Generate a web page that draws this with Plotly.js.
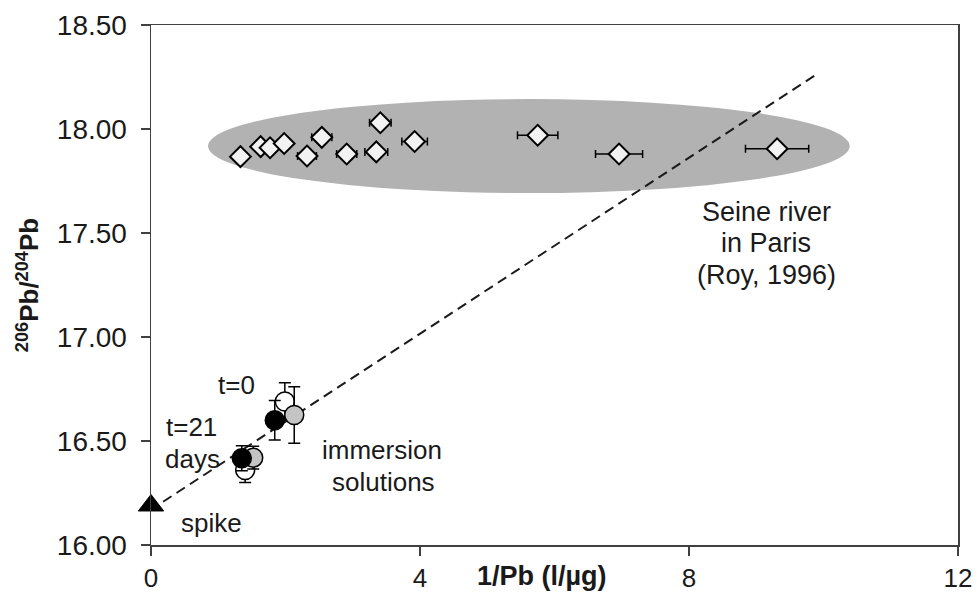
<!DOCTYPE html>
<html>
<head>
<meta charset="utf-8">
<script src="https://cdn.plot.ly/plotly-3.0.1.min.js"></script>
<style>html,body{margin:0;padding:0;background:#fff;}#chart{width:978px;height:594px;}</style>
</head>
<body>
<div id="chart"></div>
<script>
// Seine river in Paris (Roy, 1996)
const seineX = [1.33, 1.63, 1.77, 1.98, 2.32, 2.54, 2.91, 3.35, 3.41, 3.92, 5.75, 6.96, 9.31];
const seineY = [17.867, 17.915, 17.91, 17.93, 17.87, 17.96, 17.88, 17.89, 18.03, 17.94, 17.97, 17.88, 17.905];
const seineErrX = [0.08, 0.08, 0.08, 0.09, 0.14, 0.15, 0.15, 0.17, 0.16, 0.19, 0.30, 0.35, 0.47];

// Immersion solutions
const whiteX = [1.99, 1.40];
const whiteY = [16.69, 16.36];
const whiteErr = [0.09, 0.06];
const grayX = [2.13, 1.52];
const grayY = [16.625, 16.42];
const grayErr = [0.136, 0.055];
const blackX = [1.84, 1.35];
const blackY = [16.60, 16.417];
const blackErr = [0.095, 0.06];

// Spike
const spikeX = [0];
const spikeY = [16.19];

// Mixing line
const lineX = [0.18, 9.93];
const lineY = [16.208, 18.27];

// Seine field (ellipse extents)
const fieldX = [0.848, 10.39];
const fieldY = [17.692, 18.144];

const xTicks = [0, 4, 8, 12];
const xTickText = ['0', '4', '8', '12'];
const yTicks = [16.0, 16.5, 17.0, 17.5, 18.0, 18.5];
const yTickText = ['16.00', '16.50', '17.00', '17.50', '18.00', '18.50'];

const FONT = 'Liberation Sans, Arial, sans-serif';
const TXT = '#1a1a1a';

const traces = [
  {
    x: lineX, y: lineY, mode: 'lines', type: 'scatter',
    line: {color: '#1a1a1a', width: 2, dash: '10px,6px'},
    hoverinfo: 'skip', showlegend: false
  },
  {
    x: seineX, y: seineY, mode: 'markers', type: 'scatter', name: 'Seine',
    marker: {symbol: 'diamond', size: 16, color: '#f2f2f2', line: {color: '#000', width: 2}},
    error_x: {type: 'data', array: seineErrX, visible: true, color: '#000', thickness: 1.5, width: 4},
    showlegend: false
  },
  {
    x: whiteX, y: whiteY, mode: 'markers', type: 'scatter', name: 't=0',
    marker: {symbol: 'circle', size: 19, color: '#ffffff', line: {color: '#000', width: 1.5}},
    error_y: {type: 'data', array: whiteErr, visible: true, color: '#000', thickness: 1.5, width: 6},
    showlegend: false
  },
  {
    x: grayX, y: grayY, mode: 'markers', type: 'scatter', name: 'intermediate',
    marker: {symbol: 'circle', size: 19, color: '#c4c4c4', line: {color: '#000', width: 1.5}},
    error_y: {type: 'data', array: grayErr, visible: true, color: '#000', thickness: 1.5, width: 6},
    showlegend: false
  },
  {
    x: blackX, y: blackY, mode: 'markers', type: 'scatter', name: 't=21 days',
    marker: {symbol: 'circle', size: 19, color: '#000000', line: {color: '#000', width: 1.5}},
    error_y: {type: 'data', array: blackErr, visible: true, color: '#000', thickness: 1.5, width: 6},
    showlegend: false
  },
  {
    x: spikeX, y: spikeY, mode: 'markers', type: 'scatter', name: 'spike',
    marker: {symbol: 'triangle-up', size: 22, color: '#000', line: {color: '#000', width: 1}},
    cliponaxis: false, showlegend: false
  }
];

function label(x, y, text, size) {
  return {xref: 'x', yref: 'y', x: x, y: y, text: text, showarrow: false,
          xanchor: 'center', yanchor: 'middle',
          font: {family: FONT, size: size, color: TXT}};
}

const layout = {
  width: 978, height: 594,
  margin: {l: 151, r: 20, t: 25, b: 49},
  paper_bgcolor: '#ffffff', plot_bgcolor: '#ffffff',
  font: {family: FONT, size: 26, color: TXT},
  showlegend: false,
  xaxis: {
    range: [0, 12], tickvals: xTicks, ticktext: xTickText,
    showgrid: false, zeroline: false,
    showline: true, mirror: true, linecolor: '#404040', linewidth: 1.5,
    ticks: 'outside', ticklen: 9, tickwidth: 1.5, tickcolor: '#404040',
    tickfont: {family: FONT, size: 26, color: TXT},
    ticklabelstandoff: 0
  },
  yaxis: {
    range: [16, 18.5], tickvals: yTicks, ticktext: yTickText,
    showgrid: false, zeroline: false,
    showline: true, mirror: true, linecolor: '#404040', linewidth: 1.5,
    ticks: 'outside', ticklen: 9, tickwidth: 1.5, tickcolor: '#404040',
    tickfont: {family: FONT, size: 28, color: TXT},
    ticklabelstandoff: 8,
    title: {text: '<b><sup>206</sup>Pb/<sup>204</sup>Pb</b>', font: {family: FONT, size: 26, color: TXT}, standoff: 10}
  },
  shapes: [
    {
      type: 'circle', xref: 'x', yref: 'y', layer: 'below',
      x0: fieldX[0], x1: fieldX[1], y0: fieldY[0], y1: fieldY[1],
      fillcolor: '#b2b2b2', line: {width: 0}
    }
  ],
  annotations: [
    {xref: 'paper', yref: 'paper', x: 0.485, y: 0, yshift: -31, yanchor: 'middle', xanchor: 'center',
     text: '<b>1/Pb (l/µg)</b>', showarrow: false, font: {family: FONT, size: 27, color: TXT}},
    label(9.15, 17.602, 'Seine river', 27),
    label(9.15, 17.450, 'in Paris', 27),
    label(9.15, 17.298, '(Roy, 1996)', 27),
    label(3.43, 16.457, 'immersion', 26),
    label(3.45, 16.304, 'solutions', 26),
    label(1.27, 16.77, 't=0', 26),
    label(0.60, 16.569, 't=21', 26),
    label(0.61, 16.413, 'days', 26),
    label(0.90, 16.104, 'spike', 26)
  ]
};

Plotly.newPlot('chart', traces, layout, {displayModeBar: false, staticPlot: true});
</script>
</body>
</html>
